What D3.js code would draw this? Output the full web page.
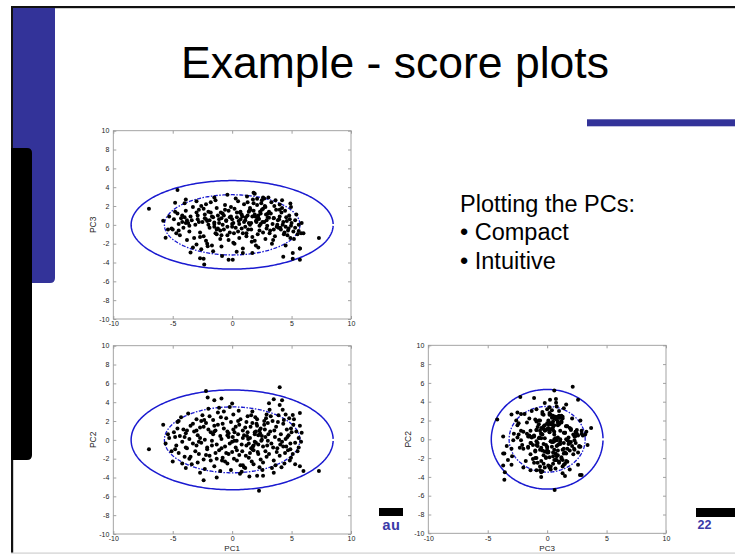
<!DOCTYPE html>
<html><head><meta charset="utf-8">
<script src="https://cdn.jsdelivr.net/npm/d3@7"></script>
<style>html,body{margin:0;padding:0;background:#fff;}svg{display:block;}</style>
</head><body>
<svg id="c" width="735" height="556"></svg>
<script>
// ---------------- DATA ----------------
const title = "Example - score plots";
const bulletLines = ["Plotting the PCs:", "\u2022 Compact", "\u2022 Intuitive"];
const xTicks = [-10, -5, 0, 5, 10];
const yTicks = [-10, -8, -6, -4, -2, 0, 2, 4, 6, 8, 10];
const footerLeft = "au";
const footerRight = "22";
// ellipse radii (per component): outer solid / inner dashed
const outerRadius = {pc1: 8.5, pc2: 5.3, pc3: 4.7};
const innerRadius = {pc1: 5.7, pc2: 3.5, pc3: 3.2};

const pc1 = [-7.0,7.3,4.0,-2.2,-2.06,-0.9,-1.5,4.2,3.5,3.1,0.0,5.7,5.1,-5.8,-5.6,-5.0,-4.2,-2.7,-2.4,-2.35,-1.3,0.66,1.45,2.1,2.6,2.26,5.3,6.0,5.85,-4.6,-4.8,-3.9,-3.0,-3.5,-0.85,-0.3,0.05,0.38,0.9,1.7,2.2,4.3,5.1,5.7,5.7,5.6,4.9,4.95,1.8,1.9,-0.4,
-5.3,-5.1,-4.9,-4.7,-4.6,-4.5,-4.4,-4.3,-4.2,-4.1,-4.0,-3.9,-3.8,-3.7,-3.6,-3.5,-3.4,-3.3,-3.2,-3.1,-3.0,-3.0,-3.8,-4.8,-5.4,-3.6,-4.0,-3.3,-4.5,-3.9,
-2.9,-2.8,-2.7,-2.6,-2.5,-2.4,-2.3,-2.2,-2.1,-2.0,-1.9,-1.8,-1.7,-1.6,-1.5,-1.4,-1.3,-1.2,-1.1,-1.0,-2.9,-2.6,-2.3,-2.0,-1.8,-1.6,-1.4,-1.2,-1.0,-2.7,-2.4,-2.1,-1.9,-1.7,-1.5,-1.3,-1.1,-2.8,-2.2,-1.5,
-0.9,-0.8,-0.7,-0.6,-0.5,-0.4,-0.3,-0.2,-0.1,0.0,0.1,0.2,0.3,0.4,0.5,0.6,0.7,0.8,0.9,1.0,-0.9,-0.7,-0.5,-0.3,-0.1,0.1,0.3,0.5,0.7,0.9,-0.8,-0.6,-0.4,-0.2,0.0,0.2,0.4,0.6,0.8,1.0,-0.95,0.15,0.55,0.85,
1.1,1.2,1.3,1.4,1.5,1.6,1.7,1.8,1.9,2.0,2.1,2.2,2.3,2.4,2.5,2.6,2.7,2.8,2.9,3.0,1.1,1.3,1.5,1.7,1.9,2.1,2.3,2.5,2.7,2.9,1.2,1.4,1.6,1.8,2.0,2.2,2.4,2.6,2.8,3.0,1.15,1.35,1.55,1.75,1.95,2.15,2.35,2.55,2.75,2.95,1.25,1.65,2.05,2.45,2.85,
3.1,3.2,3.3,3.4,3.5,3.6,3.7,3.8,3.9,4.0,4.1,4.2,4.3,4.4,4.5,4.6,4.7,4.8,4.9,5.0,3.15,3.35,3.55,3.75,3.95,4.15,4.35,4.55,4.75,4.95,3.25,3.45,3.65,3.85,4.05,4.25,4.45,4.65,4.85,5.15,5.3,5.5,5.4,5.6,5.2,3.05,4.0,3.5,5.8,4.5];

const pc2 = [-1.0,-3.3,5.6,5.2,4.5,4.4,4.2,4.2,4.3,3.9,3.85,2.85,2.65,1.6,-0.4,-2.3,-2.5,-3.5,-4.3,2.1,-4.0,-3.6,-3.9,-3.8,-3.8,-5.4,-2.6,-3.3,0.76,1.2,0.3,-0.8,1.0,-1.8,-2.2,-1.5,0.3,-0.1,-2.7,-1.0,0.5,-0.7,-1.5,-2.8,1.5,0.2,-1.0,1.2,-0.6,0.8,0.5,
0.2,-1.2,0.8,-0.6,1.9,-1.4,0.4,2.4,-0.2,1.1,-1.8,0.7,-0.9,2.8,0.1,1.5,-2.6,-0.4,0.9,-1.2,2.2,-0.6,1.0,-1.0,0.6,-2.0,0.3,1.7,2.0,-3.0,
0.5,-1.5,1.3,-0.3,2.6,-2.1,0.0,1.8,-0.8,3.3,-1.7,0.8,-0.1,2.1,-2.8,1.0,-0.5,2.9,-1.1,0.4,-2.4,2.0,-3.1,1.1,-2.2,0.6,-1.4,1.6,-3.3,0.2,1.4,-1.0,2.5,-0.6,0.9,-2.0,3.4,-0.2,-1.6,1.5,
0.1,-1.9,1.2,-0.7,2.3,-2.5,0.7,-0.4,1.9,-1.3,2.7,-0.1,1.4,-2.2,0.6,-1.6,2.2,-0.5,1.0,-2.9,-0.9,3.0,-1.4,0.3,-3.2,1.1,-0.8,2.0,-2.7,0.2,1.7,-2.3,0.9,3.5,-0.2,0.8,-1.1,1.6,-3.4,0.5,2.4,-2.0,3.1,-1.2,
1.3,-0.6,2.5,-1.9,0.2,-0.9,1.8,-2.6,0.6,-0.3,2.2,-1.5,1.0,-2.1,0.4,-0.7,1.6,-1.2,2.7,-0.1,-3.0,0.8,-1.4,3.0,-0.2,1.5,-2.9,0.0,2.0,-1.8,1.9,-0.4,2.6,-1.1,0.9,-0.5,1.2,-2.4,0.3,1.8,-1.7,0.1,1.4,-0.7,2.4,-1.3,0.7,-3.2,1.1,-0.6,0.4,-2.3,1.7,-0.1,2.3,
-1.5,0.9,-0.4,2.0,-2.2,0.3,1.4,-0.9,2.6,-1.7,0.6,-0.2,1.7,-2.5,0.1,1.1,-1.1,2.3,-0.4,0.8,3.2,-3.0,1.0,-1.3,0.0,-2.9,2.1,-0.7,0.5,-1.9,2.5,-0.8,-2.7,1.9,-0.5,3.2,-1.4,0.3,-2.2,1.6,-0.3,-1.2,0.9,-0.8,2.2,0.6,3.7,-3.5,-0.2,2.7];

const pc3 = [1.7,-1.4,2.15,0.6,-2.26,-1.1,0.24,2.6,0.74,0.75,-0.2,-2.5,-3.0,0.44,-1.36,-0.5,1.0,-3.56,-3.6,-4.2,-0.5,1.3,1.5,2.76,2.9,0.63,-0.3,-0.9,0.2,3.7,2.35,2.7,2.5,-2.95,-3.3,-3.7,-3.7,-2.85,-3.0,-3.0,-2.4,-3.4,-3.6,-3.7,-2.5,-0.65,2.27,1.9,3.4,3.3,3.2,
0.9,-0.4,0.6,-0.9,1.2,0.1,-1.1,0.7,0.3,-0.3,0.8,1.5,-1.6,0.2,-0.7,0.9,0.5,1.9,-1.4,0.0,1.3,-2.1,0.5,1.4,-0.5,-0.1,2.3,-2.4,-0.6,0.2,
0.6,1.6,-0.8,2.0,0.3,-1.2,1.1,-1.7,0.4,1.4,-0.3,2.4,-2.2,0.8,0.1,-0.9,1.8,-0.4,0.6,-1.5,1.0,-2.6,0.7,0.0,1.3,-2.8,2.6,1.0,-0.6,-1.3,1.7,-2.0,0.5,0.9,2.9,-1.0,0.2,0.3,2.2,-0.2,
0.7,1.2,-0.5,2.1,0.4,-1.1,1.5,-0.8,0.9,0.1,-1.9,1.7,-0.3,0.8,2.5,-1.4,0.6,1.1,-0.9,0.3,-2.3,1.0,0.5,-1.6,1.9,0.2,2.8,-0.7,1.4,-2.5,0.0,1.6,-0.2,0.8,0.6,-2.0,1.3,0.1,-0.4,2.2,1.3,-0.9,0.4,0.9,
0.5,-1.2,1.0,0.2,1.8,-0.5,0.9,1.5,-1.7,0.4,2.1,0.7,-0.1,1.2,2.6,-0.8,0.3,1.9,-0.4,0.8,-0.2,2.4,0.0,-1.3,1.1,0.6,-0.6,1.6,2.8,0.5,-0.9,1.4,0.2,2.3,-2.2,1.0,0.1,1.7,-1.5,1.2,0.8,-0.5,1.6,2.7,0.9,-1.0,1.4,0.3,2.0,-0.1,3.0,-1.8,0.3,2.3,1.1,
1.4,-0.6,2.4,0.1,0.7,-1.2,1.6,0.0,-0.3,0.9,-0.5,1.8,0.3,-0.8,-0.2,0.4,-0.6,1.0,-1.4,0.2,-0.9,-2.0,2.0,-0.2,0.6,1.3,-1.0,0.8,-0.4,-0.1,1.2,-1.6,2.6,0.5,-0.3,0.0,1.5,-1.1,0.6,-0.7,0.5,-1.0,1.1,0.0,-1.5,2.9,1.6,-0.5,-0.9,-2.2];

// ---------------- DRAW ----------------
const svg = d3.select("#c");
const n = Math.min(pc1.length, pc2.length, pc3.length);
const points = d3.range(n).map(i => ({pc1: pc1[i], pc2: pc2[i], pc3: pc3[i]}));

// slide frame
const blue = "#333399";
svg.append("rect").attr("x", 11).attr("y", 6).attr("width", 724).attr("height", 2.2).attr("fill", "#111");
svg.append("rect").attr("x", 11).attr("y", 6).attr("width", 2.2).attr("height", 547).attr("fill", "#111");
svg.append("rect").attr("x", 11).attr("y", 552.5).attr("width", 724).attr("height", 1.2).attr("fill", "#d0d0d0");
function roundRightBottom(x, y, w, h, r) {
  return `M${x},${y}H${x+w}V${y+h-r}Q${x+w},${y+h} ${x+w-r},${y+h}H${x}Z`;
}
function roundRight(x, y, w, h, r) {
  return `M${x},${y}H${x+w-r}Q${x+w},${y} ${x+w},${y+r}V${y+h-r}Q${x+w},${y+h} ${x+w-r},${y+h}H${x}Z`;
}
svg.append("path").attr("d", roundRightBottom(13, 8, 42, 275, 5)).attr("fill", blue);
svg.append("path").attr("d", roundRight(11, 148, 21, 312, 5)).attr("fill", "#000");
svg.append("rect").attr("x", 587).attr("y", 119.3).attr("width", 148).attr("height", 7).attr("fill", blue);

// title
svg.append("text").attr("x", 395).attr("y", 78).attr("text-anchor", "middle")
  .attr("font-family", "Liberation Sans, Arial, sans-serif").attr("font-size", 44.5)
  .attr("fill", "#000").text(title);

// bullet text
svg.append("g").selectAll("text").data(bulletLines).join("text")
  .attr("x", 460).attr("y", (d, i) => 211.5 + i * 28.9)
  .attr("font-family", "Liberation Sans, Arial, sans-serif").attr("font-size", 23.5)
  .attr("fill", "#000").text(d => d);

// footer
svg.append("rect").attr("x", 379).attr("y", 508).attr("width", 24).attr("height", 8).attr("fill", "#000");
svg.append("rect").attr("x", 696).attr("y", 508).attr("width", 39).attr("height", 9).attr("fill", "#000");
svg.append("text").attr("x", 382).attr("y", 530).attr("font-family", "Liberation Mono, Courier New, monospace")
  .attr("font-weight", "bold").attr("font-size", 15).attr("fill", "#3a3aa8").text(footerLeft);
svg.append("text").attr("x", 697.5).attr("y", 529).attr("font-family", "Liberation Sans, Arial, sans-serif")
  .attr("font-weight", "bold").attr("font-size", 12.5).attr("fill", "#3a3aa8").text(footerRight);

// score plots
const plots = [
  {xk: "pc1", yk: "pc3", left: 113.3, top: 130.7, w: 237.7, h: 188.3, xlabel: null, ylabel: "PC3"},
  {xk: "pc1", yk: "pc2", left: 113.3, top: 345.7, w: 237.7, h: 188.3, xlabel: "PC1", ylabel: "PC2"},
  {xk: "pc3", yk: "pc2", left: 428.3, top: 345.3, w: 237.7, h: 188.0, xlabel: "PC3", ylabel: "PC2"}
];
const fmt = d => String(d);
const tickFont = "Liberation Sans, Arial, sans-serif";

plots.forEach(p => {
  const g = svg.append("g").attr("transform", `translate(${p.left},${p.top})`);
  const x = d3.scaleLinear().domain([-10, 10]).range([0, p.w]);
  const y = d3.scaleLinear().domain([-10, 10]).range([p.h, 0]);

  g.append("rect").attr("width", p.w).attr("height", p.h).attr("fill", "#fff");

  const styleAxis = sel => {
    sel.select(".domain").remove();
    sel.selectAll(".tick line").attr("stroke", "#8a8a8a").attr("stroke-width", 0.8);
    sel.selectAll(".tick text").attr("font-family", tickFont).attr("font-size", 7).attr("fill", "#222");
  };
  g.append("g").attr("transform", `translate(0,${p.h})`)
    .call(d3.axisBottom(x).tickValues(xTicks).tickFormat(fmt).tickSizeInner(-3).tickSizeOuter(0).tickPadding(2.5))
    .call(styleAxis);
  g.append("g")
    .call(d3.axisTop(x).tickValues(xTicks).tickFormat("").tickSizeInner(-3).tickSizeOuter(0))
    .call(styleAxis);
  g.append("g")
    .call(d3.axisLeft(y).tickValues(yTicks).tickFormat(fmt).tickSizeInner(-3).tickSizeOuter(0).tickPadding(4))
    .call(styleAxis);
  g.append("g").attr("transform", `translate(${p.w},0)`)
    .call(d3.axisRight(y).tickValues(yTicks).tickFormat("").tickSizeInner(-3).tickSizeOuter(0))
    .call(styleAxis);
  g.append("rect").attr("width", p.w).attr("height", p.h).attr("fill", "none")
    .attr("stroke", "#9a9a9a").attr("stroke-width", 0.9);

  // confidence ellipses
  const angles = d3.range(0.02, 2 * Math.PI - 0.02, 0.02);
  const ell = (rx, ry) => d3.line().x(a => x(rx * Math.cos(a))).y(a => y(ry * Math.sin(a)))(angles);
  g.append("path").attr("d", ell(outerRadius[p.xk], outerRadius[p.yk]))
    .attr("fill", "none").attr("stroke", "#1a1ad0").attr("stroke-width", 1.5);
  g.append("path").attr("d", ell(innerRadius[p.xk], innerRadius[p.yk]) + "Z")
    .attr("fill", "none").attr("stroke", "#1a1ad0").attr("stroke-width", 1.3)
    .attr("stroke-dasharray", "4,1.5,1.5,1.5");

  // points
  g.append("g").selectAll("circle").data(points).join("circle")
    .attr("cx", d => x(d[p.xk])).attr("cy", d => y(d[p.yk])).attr("r", 2).attr("fill", "#000");

  // labels
  if (p.xlabel) {
    g.append("text").attr("x", p.w / 2).attr("y", p.h + 17.3).attr("text-anchor", "middle")
      .attr("font-family", tickFont).attr("font-size", 8).attr("fill", "#222").text(p.xlabel);
  }
  g.append("text").attr("transform", `translate(-17,${p.h / 2}) rotate(-90)`).attr("text-anchor", "middle")
    .attr("font-family", tickFont).attr("font-size", 8.5).attr("fill", "#222").text(p.ylabel);
});
</script>
</body></html>
